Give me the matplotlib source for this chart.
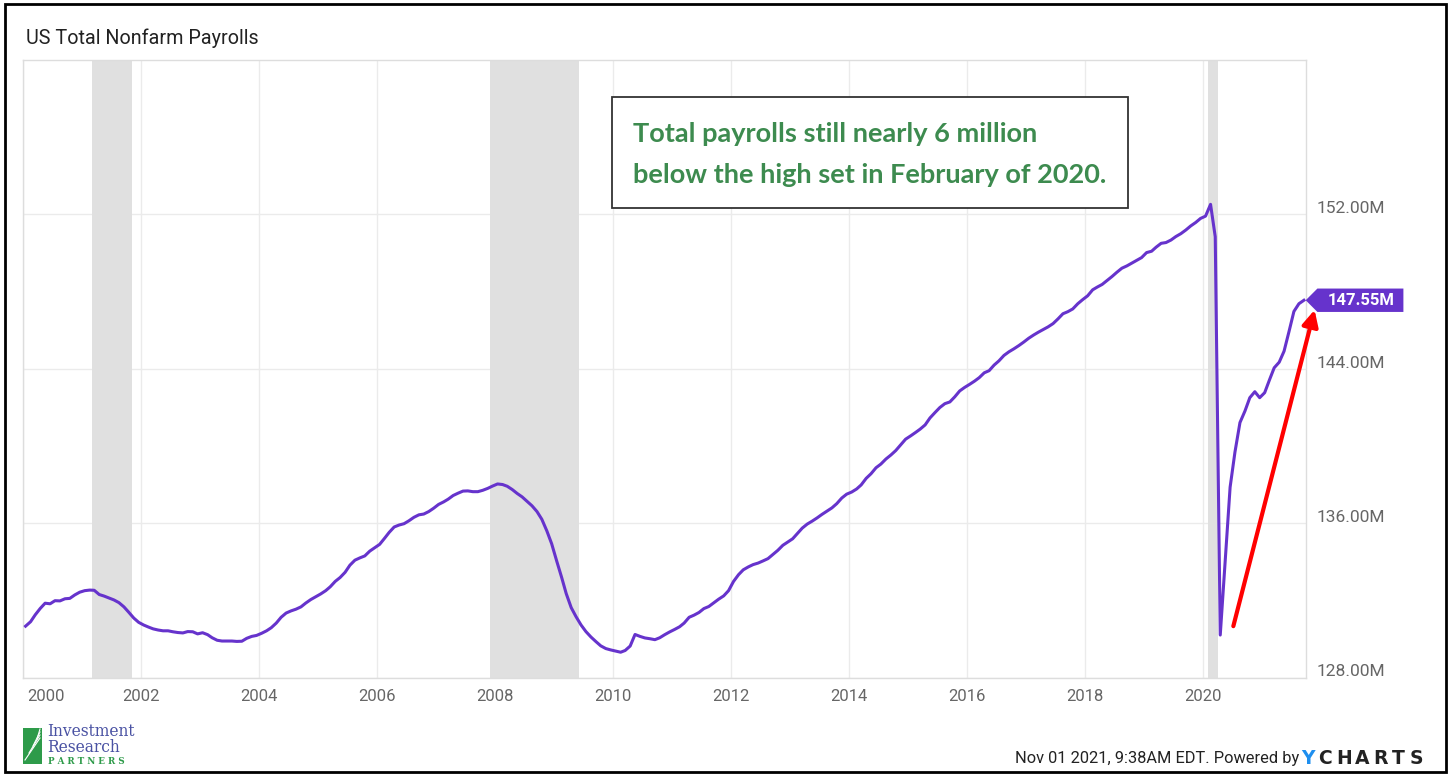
import matplotlib
matplotlib.use("Agg")
import matplotlib.pyplot as plt
import matplotlib.transforms as mtransforms
from matplotlib.patches import Polygon, Rectangle
import pandas as pd

plt.rcParams['font.family'] = ['Roboto', 'DejaVu Sans']

# US total nonfarm payrolls, millions, monthly Jan 2000 .. Sep 2021
p2000 = [130.66, 130.89, 131.25, 131.58, 131.85, 131.82, 131.98, 131.97, 132.08, 132.10, 132.28, 132.42]
p2001 = [132.50, 132.53, 132.52, 132.30, 132.22, 132.12, 132.02, 131.88, 131.66, 131.38, 131.08, 130.86]
p2002 = [130.72, 130.61, 130.52, 130.46, 130.42, 130.42, 130.37, 130.33, 130.31, 130.38, 130.37, 130.26]
p2003 = [130.32, 130.22, 130.06, 129.93, 129.89, 129.89, 129.89, 129.87, 129.88, 130.03, 130.13, 130.18]
p2004 = [130.29, 130.42, 130.58, 130.82, 131.12, 131.34, 131.45, 131.54, 131.66, 131.86, 132.04, 132.18]
p2005 = [132.33, 132.50, 132.70, 132.98, 133.18, 133.45, 133.82, 134.08, 134.20, 134.30, 134.55, 134.72]
p2006 = [134.90, 135.22, 135.52, 135.80, 135.90, 135.97, 136.12, 136.30, 136.43, 136.47, 136.60, 136.77]
p2007 = [136.97, 137.10, 137.24, 137.43, 137.55, 137.66, 137.67, 137.63, 137.63, 137.70, 137.80, 137.92]
p2008 = [138.03, 138.00, 137.91, 137.74, 137.54, 137.36, 137.13, 136.90, 136.60, 136.20, 135.60, 134.93]
p2009 = [134.04, 133.18, 132.35, 131.62, 131.15, 130.72, 130.38, 130.10, 129.86, 129.64, 129.50, 129.43]
p2010 = [129.37, 129.31, 129.40, 129.63, 130.23, 130.13, 130.05, 130.01, 129.96, 130.06, 130.22, 130.36]
p2011 = [130.49, 130.63, 130.82, 131.12, 131.23, 131.37, 131.57, 131.68, 131.87, 132.06, 132.23, 132.50]
p2012 = [132.98, 133.33, 133.58, 133.73, 133.85, 133.93, 134.04, 134.16, 134.38, 134.59, 134.85, 135.02]
p2013 = [135.19, 135.48, 135.74, 135.95, 136.10, 136.27, 136.45, 136.62, 136.79, 137.01, 137.30, 137.50]
p2014 = [137.61, 137.77, 137.98, 138.32, 138.56, 138.87, 139.06, 139.32, 139.53, 139.76, 140.06, 140.35]
p2015 = [140.52, 140.70, 140.87, 141.09, 141.45, 141.73, 141.99, 142.19, 142.28, 142.54, 142.85, 143.03]
p2016 = [143.19, 143.36, 143.54, 143.79, 143.90, 144.19, 144.41, 144.69, 144.88, 145.03, 145.20, 145.38]
p2017 = [145.58, 145.75, 145.89, 146.03, 146.17, 146.34, 146.58, 146.85, 146.96, 147.10, 147.37, 147.58]
p2018 = [147.78, 148.09, 148.23, 148.37, 148.57, 148.78, 149.00, 149.21, 149.33, 149.47, 149.61, 149.76]
p2019 = [150.02, 150.09, 150.30, 150.50, 150.54, 150.67, 150.85, 151.00, 151.19, 151.40, 151.58, 151.79]
p2020 = [151.91, 152.52, 150.84, 130.20, 134.00, 137.86, 139.68, 141.21, 141.81, 142.50, 142.81, 142.50]
p2021 = [142.76, 143.45, 144.05, 144.34, 144.91, 145.94, 146.97, 147.37, 147.55]

payrolls = (p2000 + p2001 + p2002 + p2003 + p2004 + p2005 + p2006 + p2007 + p2008 + p2009 + p2010
            + p2011 + p2012 + p2013 + p2014 + p2015 + p2016 + p2017 + p2018 + p2019 + p2020 + p2021)
months = pd.date_range("2000-01-01", periods=len(payrolls), freq="MS") + pd.Timedelta(days=14)

recessions = [("2001-03-01", "2001-11-01"), ("2007-12-01", "2009-06-01"), ("2020-02-01", "2020-04-01")]

y_ticks = [128, 136, 144, 152]
x_years = [2000, 2002, 2004, 2006, 2008, 2010, 2012, 2014, 2016, 2018, 2020]

purple = '#6633cc'
W, H = 1448, 774
fig = plt.figure(figsize=(W / 100, H / 100), dpi=100)
ax = fig.add_axes([23.3 / W, 1 - 677.5 / H, (1305.7 - 23.3) / W, (677.5 - 60) / H])

for a, b in recessions:
    ax.axvspan(pd.Timestamp(a), pd.Timestamp(b), color='#e0e0e0', lw=0, zorder=1)

ax.plot(months, payrolls, color=purple, lw=2.2, zorder=3)

ax.set_xlim(pd.Timestamp("2000-01-01"), pd.Timestamp("2021-09-26"))
ax.set_ylim(128, 160)
ax.set_axisbelow(True)
ax.grid(True, color='#ebebeb', lw=1)
for s in ax.spines.values():
    s.set_color('#dddddd')
    s.set_linewidth(1)

ax.set_xticks([pd.Timestamp(f"{y}-01-01") for y in x_years])
ax.set_xticklabels([str(y) for y in x_years])
ax.tick_params(axis='x', length=0, pad=8, labelsize=12, labelcolor='#666666')
xl = ax.get_xticklabels()
xl[0].set_ha('left')
xl[0].set_transform(xl[0].get_transform() + mtransforms.ScaledTranslation(0.035, 0, fig.dpi_scale_trans))

ax.yaxis.tick_right()
ax.set_yticks(y_ticks)
ax.set_yticklabels([f"{v:.2f}M" for v in y_ticks])
ax.tick_params(axis='y', length=0, pad=7.5, labelsize=12.5, labelcolor='#666666')
for lbl in ax.get_yticklabels():
    lbl.set_transform(lbl.get_transform() + mtransforms.ScaledTranslation(0, 0.07, fig.dpi_scale_trans))

# last value flag
last = payrolls[-1]
edge = mtransforms.blended_transform_factory(ax.transAxes, ax.transData)
flag_tr = fig.dpi_scale_trans + mtransforms.ScaledTranslation(1.0, last, edge)
flag = Polygon([(0, 0), (0.117, 0.117), (0.977, 0.117), (0.977, -0.117), (0.117, -0.117)],
               closed=True, transform=flag_tr, facecolor=purple, edgecolor='none', clip_on=False, zorder=5)
ax.add_patch(flag)
ax.annotate(f"{last:.2f}M", xy=(1.0, last), xycoords=edge, xytext=(0.55 * 72, 0),
            textcoords='offset points', ha='center', va='center', color='white',
            fontsize=12, fontweight='bold', zorder=6, annotation_clip=False)

# red arrow
ax.annotate("", xy=(pd.Timestamp("2021-11-20"), 147.05), xytext=(pd.Timestamp("2020-07-05"), 130.66),
            arrowprops=dict(arrowstyle='-|>', color='#ff0000', lw=3, mutation_scale=24,
                            shrinkA=0, shrinkB=0),
            annotation_clip=False, zorder=6)

# comment box
box = Rectangle((612 / W, 1 - 208 / H), (1128 - 612) / W, (208 - 97) / H, transform=fig.transFigure,
                facecolor='white', edgecolor='#333333', lw=1.3, zorder=10)
fig.patches.append(box)
green = '#3d8b4f'
fig.text(632.7 / W, 1 - 141.8 / H, "Total payrolls still nearly 6 million", family='Lato',
         fontweight='bold', fontsize=19.5, color=green, va='baseline', zorder=11)
fig.text(632.7 / W, 1 - 183 / H, "below the high set in February of 2020.", family='Lato',
         fontweight='bold', fontsize=19.5, color=green, va='baseline', zorder=11)

# title
fig.text(26 / W, 1 - 44 / H, "US Total Nonfarm Payrolls", fontsize=14.2, color='#222222', va='baseline')

# footer
fig.text(1015 / W, 1 - 763 / H, "Nov 01 2021, 9:38AM EDT. Powered by", fontsize=11.8,
         color='#222222', va='baseline')
fig.text(1301.5 / W, 1 - 763.5 / H, "Y", family='DejaVu Sans', fontsize=13.5, fontweight='bold',
         color='#1e8fef', va='baseline')
for k, ch in enumerate("CHARTS"):
    fig.text((1318 + k * 18.4) / W, 1 - 763.5 / H, ch, family='DejaVu Sans', fontsize=13.5,
             fontweight='bold', color='#222222', va='baseline')

# logo
fig.patches.append(Rectangle((23 / W, 1 - 764 / H), 19 / W, 36 / H, transform=fig.transFigure,
                             facecolor='#2e9b4a', edgecolor='none'))
for k in range(4):
    fig.lines.append(plt.Line2D([(25 + k * 4) / W, (40) / W], [1 - (760 - k * 7) / H, 1 - (738 - k * 3) / H],
                                transform=fig.transFigure, color='white', lw=0.8))
fig.text(47.5 / W, 1 - 752.5 / H, "Investment\nResearch", family='DejaVu Serif', fontsize=11.2,
         color='#4a52a3', va='baseline', linespacing=0.95)
fig.text(48 / W, 1 - 764.5 / H, "P A R T N E R S", family='DejaVu Serif', fontsize=6.3,
         fontweight='bold', color='#2e9b4a', va='baseline')

# outer frame
fig.patches.append(Rectangle((4.5 / W, 2 / H), (1446 - 4.5) / W, (770 - 2) / H, transform=fig.transFigure,
                             fill=False, edgecolor='black', lw=2))

fig.savefig("out.png", dpi=100)
